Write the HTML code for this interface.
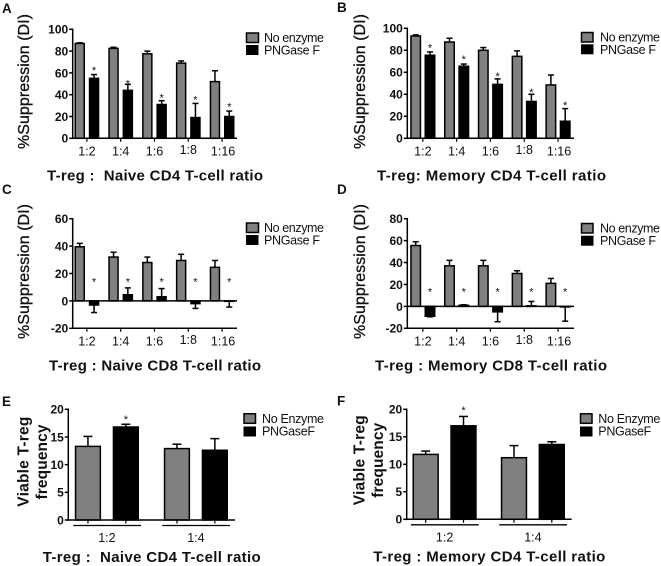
<!DOCTYPE html>
<html>
<head>
<meta charset="utf-8">
<title>T-reg suppression charts</title>
<style>
html,body{margin:0;padding:0;background:#fff;width:661px;height:566px;overflow:hidden}
svg{display:block;font-family:"Liberation Sans",sans-serif;color:#111;filter:blur(0.3px)}
text{fill:#111}
.letter{font-size:13.5px;font-weight:bold}
.ytitle{font-size:16px;font-weight:normal;stroke:#111;stroke-width:.3px;text-anchor:middle}
.ytitle2{font-size:15.5px;font-weight:bold;text-anchor:middle}
.xtitle{font-size:15px;font-weight:bold}
.legend{font-size:12.5px}
</style>
</head>
<body>
<svg id="figure" xmlns="http://www.w3.org/2000/svg" width="661" height="566" viewBox="0 0 661 566">
  <rect x="0" y="0" width="661" height="566" fill="#fff"/>

  <text class="letter" x="2" y="13">A</text>
  <text class="letter" x="337" y="12">B</text>
  <text class="letter" x="2" y="194">C</text>
  <text class="letter" x="337" y="194">D</text>
  <text class="letter" x="2" y="406">E</text>
  <text class="letter" x="337" y="405.500">F</text>

  <text class="ytitle" transform="translate(29,81.500) rotate(-90)" textLength="135">%Suppression (DI)</text>
  <text class="ytitle" transform="translate(365,81.500) rotate(-90)" textLength="135">%Suppression (DI)</text>
  <text class="ytitle" transform="translate(29,271.500) rotate(-90)" textLength="135">%Suppression (DI)</text>
  <text class="ytitle" transform="translate(365,271.500) rotate(-90)" textLength="135">%Suppression (DI)</text>

  <text class="ytitle2" transform="translate(28.500,461.700) rotate(-90)" textLength="90">Viable T-reg</text>
  <text class="ytitle2" transform="translate(47,462) rotate(-90)" textLength="75">frequency</text>
  <text class="ytitle2" transform="translate(364.500,460.300) rotate(-90)" textLength="90">Viable T-reg</text>
  <text class="ytitle2" transform="translate(383,460.300) rotate(-90)" textLength="75">frequency</text>

  <text class="xtitle" x="47" y="180.500" textLength="216" xml:space="preserve">T-reg :  Naive CD4 T-cell ratio</text>
  <text class="xtitle" x="377" y="180.500" textLength="229">T-reg: Memory CD4 T-cell ratio</text>
  <text class="xtitle" x="49" y="370.500" textLength="212">T-reg : Naive CD8 T-cell ratio</text>
  <text class="xtitle" x="375" y="370.500" textLength="232">T-reg : Memory CD8 T-cell ratio</text>
  <text class="xtitle" x="42.700" y="562" textLength="218" xml:space="preserve">T-reg :  Naive CD4 T-cell ratio</text>
  <text class="xtitle" x="373.300" y="561.500" textLength="232">T-reg : Memory CD4 T-cell ratio</text>

  <g>
    <rect x="246.500" y="33" width="12" height="9.500" fill="#808080" stroke="#000" stroke-width="1.500"/>
    <rect x="246" y="45" width="12.500" height="10" fill="#000"/>
    <text class="legend" x="264" y="41.800" textLength="60">No enzyme</text>
    <text class="legend" x="264" y="54.500" textLength="56">PNGase F</text>
  </g>
  <g>
    <rect x="581.500" y="32.500" width="11.500" height="9.500" fill="#808080" stroke="#000" stroke-width="1.500"/>
    <rect x="581" y="44.300" width="12.500" height="10" fill="#000"/>
    <text class="legend" x="600" y="41.300" textLength="60">No enzyme</text>
    <text class="legend" x="600" y="54" textLength="56">PNGase F</text>
  </g>
  <g>
    <rect x="246.500" y="223" width="12" height="9.500" fill="#808080" stroke="#000" stroke-width="1.500"/>
    <rect x="246" y="235" width="12.500" height="10" fill="#000"/>
    <text class="legend" x="264" y="231.800" textLength="60">No enzyme</text>
    <text class="legend" x="264" y="244.500" textLength="56">PNGase F</text>
  </g>
  <g>
    <rect x="581.500" y="223.500" width="11.500" height="9.500" fill="#808080" stroke="#000" stroke-width="1.500"/>
    <rect x="581" y="235.700" width="12.500" height="10" fill="#000"/>
    <text class="legend" x="600" y="232.300" textLength="60">No enzyme</text>
    <text class="legend" x="600" y="245" textLength="56">PNGase F</text>
  </g>
  <g>
    <rect x="244" y="413.800" width="11.500" height="9.500" fill="#808080" stroke="#000" stroke-width="1.500"/>
    <rect x="243.500" y="426.500" width="12.500" height="10" fill="#000"/>
    <text class="legend" x="262" y="422.800" textLength="62">No Enzyme</text>
    <text class="legend" x="262" y="435.500" textLength="53">PNGaseF</text>
  </g>
  <g>
    <rect x="580.500" y="413.800" width="11.500" height="9.500" fill="#808080" stroke="#000" stroke-width="1.500"/>
    <rect x="580" y="426.500" width="12.500" height="10" fill="#000"/>
    <text class="legend" x="598.300" y="422.800" textLength="62">No Enzyme</text>
    <text class="legend" x="598.300" y="435.500" textLength="53">PNGaseF</text>
  </g>
</svg>

<script>
// Shared categories and tick labels
var ratiosFive = ['1:2', '1:4', '1:6', '1:8', '1:16'];
var ratiosTwo = ['1:2', '1:4'];
var ticksAB = [0, 20, 40, 60, 80, 100];
var ticksC = [-20, 0, 20, 40, 60];
var ticksD = [-20, 0, 20, 40, 60, 80];
var ticksEF = [0, 5, 10, 15, 20];

// Panel A
var aNoEnzyme = [87, 82.5, 77.5, 69, 52];
var aNoEnzymeErr = [87.6, 83.5, 80, 71, 62];
var aPngase = [55, 44, 31, 19, 20];
var aPngaseErr = [58.5, 49.5, 34.5, 32, 25];
var aStars = [64.8, 52.6, 39.7, 37.9, 31.5];

// Panel B
var bNoEnzyme = [93, 87.5, 80, 74.5, 48.5];
var bNoEnzymeErr = [94, 91, 82.5, 79.5, 57.5];
var bPngase = [75.5, 65.5, 49, 33.5, 15.5];
var bPngaseErr = [78.5, 67.5, 54, 40, 27];
var bStars = [84.8, 74.4, 59, 44.5, 32.4];

// Panel C
var cNoEnzyme = [39.5, 32, 28, 29.5, 24.5];
var cNoEnzymeErr = [42, 35.5, 32, 34, 29.5];
var cPngase = [-3, 4.5, 3, -2, -0.3];
var cPngaseErr = [-8.5, 9.5, 9, -5.5, -4.5];
var cStars = [16, 16, 16, 16, 16];

// Panel D
var dNoEnzyme = [55.5, 37, 37, 30, 21];
var dNoEnzymeErr = [59, 42, 42, 32.5, 25.5];
var dPngase = [-9, 1, -5, 0.5, -0.5];
var dPngaseErr = [-9.5, 1.5, -14, 4.5, -13.5];
var dStars = [16, 16, 16, 16, 16];

// Panel E
var eNoEnzyme = [13.3, 12.9];
var eNoEnzymeErr = [15.1, 13.7];
var ePngase = [16.8, 12.6];
var ePngaseErr = [17.3, 14.7];
var eStars = [18.7, null];

// Panel F
var fNoEnzyme = [11.8, 11.2];
var fNoEnzymeErr = [12.4, 13.4];
var fPngase = [17, 13.6];
var fPngaseErr = [18.7, 14.1];
var fStars = [20.3, null];

var SVGNS = 'http://www.w3.org/2000/svg';
var figure = document.getElementById('figure');

function mk(tag, attrs, parent) {
  var node = document.createElementNS(SVGNS, tag);
  for (var k in attrs) node.setAttribute(k, attrs[k]);
  parent.appendChild(node);
  return node;
}

function makeYScale(vMin, vMax, pxBottom, pxTop) {
  return function (v) {
    return pxBottom + (v - vMin) * (pxTop - pxBottom) / (vMax - vMin);
  };
}

function drawBar(parent, x, w, value, errEnd, y, fill, label) {
  var capW = w > 20 ? 9 : 6;
  var cx = x + w / 2;
  var err = mk('line', { x1: cx, x2: cx, y1: y(value), y2: y(errEnd), stroke: '#000', 'stroke-width': 1.5 }, parent);
  
  
  var cap = mk('line', { x1: cx - capW / 2, x2: cx + capW / 2, y1: y(errEnd), y2: y(errEnd), stroke: '#000', 'stroke-width': 1.5 }, parent);
  
  
  var top = Math.min(y(value), y(0));
  var h = Math.abs(y(value) - y(0));
  var bar = mk('rect', { x: x + 0.75, y: top, width: w - 1.5, height: h, fill: fill, stroke: '#000', 'stroke-width': 1.5 }, parent);
  
  
}

function drawPanel(p) {
  var g = mk('g', {}, figure);
  
  
  var y = makeYScale(p.ticks[0], p.ticks[p.ticks.length - 1], p.pxBottom, p.pxTop);

  // bars, error bars, significance stars
  p.categories.forEach(function (cat, i) {
    var gx = p.firstBar + i * p.step;
    drawBar(g, gx, p.barW, p.noEnzyme[i], p.noEnzymeErr[i], y, '#808080', 'bar-no-enzyme-' + p.id + '-' + cat);
    drawBar(g, gx + p.blackOffset, p.barW, p.pngase[i], p.pngaseErr[i], y, '#000', 'bar-pngase-' + p.id + '-' + cat);
    if (p.stars[i] !== null) {
      var star = mk('text', { x: gx + p.blackOffset + p.barW / 2, y: y(p.stars[i]) + 6.5, 'text-anchor': 'middle', 'font-size': 11 }, g);
      star.textContent = '*';
      
      
    }
  });

  // y axis
  var yAxis = mk('line', { x1: p.axisX, x2: p.axisX, y1: p.pxTop - 0.75, y2: p.pxBottom + 0.75, stroke: '#000', 'stroke-width': 1.5 }, g);
  
  
  p.ticks.forEach(function (t) {
    var tick = mk('line', { x1: p.axisX - 3.5, x2: p.axisX, y1: y(t), y2: y(t), stroke: '#000', 'stroke-width': 1.5 }, g);
    
    
    var lab = mk('text', { x: p.axisX - 4.5, y: y(t) + 4.4, 'text-anchor': 'end', 'font-size': 12, 'font-weight': 'bold' }, g);
    lab.textContent = t;
    
    
  });

  // x axis (bottom) and zero line
  var xAxis = mk('line', { x1: p.axisX, x2: p.axisRight, y1: p.pxBottom, y2: p.pxBottom, stroke: '#000', 'stroke-width': 1.5 }, g);
  
  
  if (p.ticks[0] < 0) {
    var zero = mk('line', { x1: p.axisX, x2: p.axisRight, y1: y(0), y2: y(0), stroke: '#000', 'stroke-width': 1.5 }, g);
    
    
  }

  p.categories.forEach(function (cat, i) {
    var gx = p.firstBar + i * p.step;
    if (p.grouped) {
      [gx + p.barW / 2, gx + p.blackOffset + p.barW / 2].forEach(function (tx, j) {
        var tk = mk('line', { x1: tx, x2: tx, y1: p.pxBottom, y2: p.pxBottom + 3.5, stroke: '#000', 'stroke-width': 1.2 }, g);
        
        
      });
      var bracket = mk('line', { x1: gx - 1.5, x2: gx + p.blackOffset + p.barW + 2, y1: p.pxBottom + 5.5, y2: p.pxBottom + 5.5, stroke: '#000', 'stroke-width': 1.3 }, g);
      
      
      var gl = mk('text', { x: gx + (p.blackOffset + p.barW) / 2, y: p.pxBottom + 22, 'text-anchor': 'middle', 'font-size': 12.5 }, g);
      gl.textContent = cat;
      
      
    } else {
      var cx = gx + (p.blackOffset + p.barW) / 2;
      var t1 = mk('line', { x1: cx, x2: cx, y1: p.pxBottom, y2: p.pxBottom + 3.5, stroke: '#000', 'stroke-width': 1.2 }, g);
      
      
      var lift = cat === '1:8' ? 1.5 : 0;
      var xl = mk('text', { x: cx + (cat === '1:16' ? 1 : 0), y: p.pxBottom + 17 - lift, 'text-anchor': 'middle', 'font-size': 12.5 }, g);
      xl.textContent = cat;
      
      
    }
  });
}

drawPanel({ id: 'a', categories: ratiosFive, ticks: ticksAB, noEnzyme: aNoEnzyme, noEnzymeErr: aNoEnzymeErr, pngase: aPngase, pngaseErr: aPngaseErr, stars: aStars,
  axisX: 72.7, axisRight: 237, pxBottom: 138.3, pxTop: 29.3, firstBar: 74.5, barW: 10.5, blackOffset: 14.3, step: 33.8, grouped: false });
drawPanel({ id: 'b', categories: ratiosFive, ticks: ticksAB, noEnzyme: bNoEnzyme, noEnzymeErr: bNoEnzymeErr, pngase: bPngase, pngaseErr: bPngaseErr, stars: bStars,
  axisX: 407.3, axisRight: 574, pxBottom: 138.3, pxTop: 28.3, firstBar: 410.2, barW: 11, blackOffset: 14.3, step: 33.8, grouped: false });
drawPanel({ id: 'c', categories: ratiosFive, ticks: ticksC, noEnzyme: cNoEnzyme, noEnzymeErr: cNoEnzymeErr, pngase: cPngase, pngaseErr: cPngaseErr, stars: cStars,
  axisX: 72.7, axisRight: 237, pxBottom: 328.3, pxTop: 218.7, firstBar: 74.5, barW: 10.5, blackOffset: 14.3, step: 33.8, grouped: false });
drawPanel({ id: 'd', categories: ratiosFive, ticks: ticksD, noEnzyme: dNoEnzyme, noEnzymeErr: dNoEnzymeErr, pngase: dPngase, pngaseErr: dPngaseErr, stars: dStars,
  axisX: 407.3, axisRight: 574, pxBottom: 328.3, pxTop: 218.7, firstBar: 410.2, barW: 11, blackOffset: 14.3, step: 33.8, grouped: false });
drawPanel({ id: 'e', categories: ratiosTwo, ticks: ticksEF, noEnzyme: eNoEnzyme, noEnzymeErr: eNoEnzymeErr, pngase: ePngase, pngaseErr: ePngaseErr, stars: eStars,
  axisX: 68.3, axisRight: 235, pxBottom: 520, pxTop: 409.3, firstBar: 74.8, barW: 26.3, blackOffset: 37.9, step: 89, grouped: true });
drawPanel({ id: 'f', categories: ratiosTwo, ticks: ticksEF, noEnzyme: fNoEnzyme, noEnzymeErr: fNoEnzymeErr, pngase: fPngase, pngaseErr: fPngaseErr, stars: fStars,
  axisX: 406.7, axisRight: 571.7, pxBottom: 519.3, pxTop: 409.3, firstBar: 412.5, barW: 26.4, blackOffset: 37.8, step: 88.3, grouped: true });
</script>
</body>
</html>
